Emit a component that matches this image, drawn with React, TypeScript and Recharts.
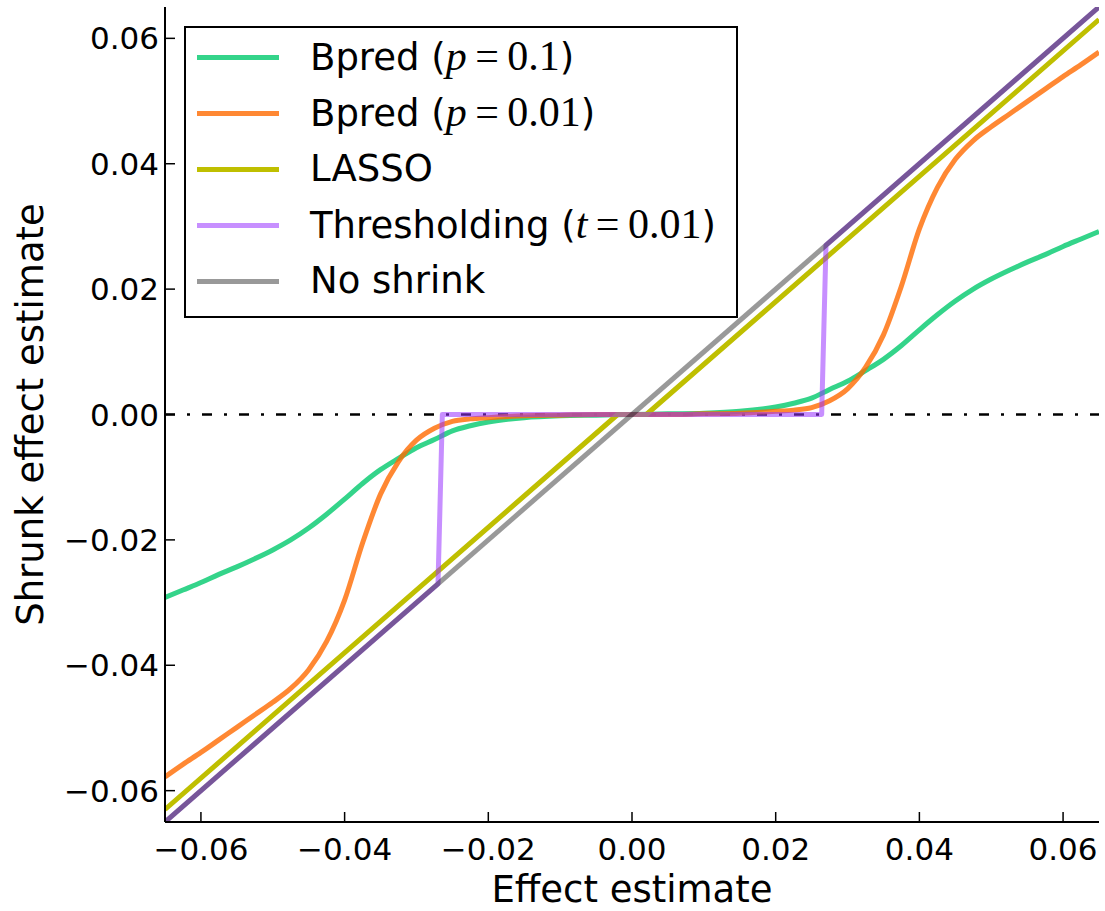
import React from "react";
import { LineChart, Line, XAxis, YAxis, Legend } from "recharts";

// effect estimates at which the Bpred curves are evaluated
const effectX = [
  -0.065, -0.0625, -0.06, -0.0575, -0.055, -0.0525, -0.05, -0.0475, -0.045, -0.0425, -0.04,
  -0.0375, -0.035, -0.0325, -0.03, -0.0275, -0.025, -0.0225, -0.02, -0.015, -0.01, -0.005, 0,
  0.005, 0.01, 0.015, 0.02, 0.0225, 0.025, 0.0275, 0.03, 0.0325, 0.035, 0.0375, 0.04, 0.0425,
  0.045, 0.0475, 0.05, 0.0525, 0.055, 0.0575, 0.06, 0.0625, 0.065,
];

const bpredP01 = [
  -0.0292, -0.028, -0.0268, -0.0255, -0.0243, -0.023, -0.0216, -0.02, -0.0181, -0.0159, -0.0135,
  -0.011, -0.0088, -0.007, -0.0053, -0.004, -0.0026, -0.0018, -0.0012, -0.0005, -0.0002, -0.0001, 0,
  0.0001, 0.0002, 0.0005, 0.0012, 0.0018, 0.0026, 0.004, 0.0053, 0.007, 0.0088, 0.011, 0.0135, 0.0159,
  0.0181, 0.02, 0.0216, 0.023, 0.0243, 0.0255, 0.0268, 0.028, 0.0292,
];

const bpredP001 = [
  -0.0578, -0.0558, -0.0539, -0.0519, -0.0499, -0.0479, -0.0459, -0.0437, -0.0407, -0.0362, -0.0296,
  -0.0205, -0.0127, -0.0075, -0.0041, -0.0022, -0.0011, -0.0007, -0.0005, -0.0002, -0.0001, 0, 0,
  0, 0.0001, 0.0002, 0.0005, 0.0007, 0.0011, 0.0022, 0.0041, 0.0075, 0.0127, 0.0205, 0.0296, 0.0362,
  0.0407, 0.0437, 0.0459, 0.0479, 0.0499, 0.0519, 0.0539, 0.0558, 0.0578,
];

const lassoX = [-0.065, -0.002, 0.002, 0.065];
const lassoY = [-0.063, 0, 0, 0.063];

const threshX = [-0.065, -0.027, -0.0264, 0.0264, 0.027, 0.065];
const threshY = [-0.065, -0.027, 0, 0, 0.027, 0.065];

const noShrinkX = [-0.065, 0.065];
const noShrinkY = [-0.065, 0.065];

const zeroX = [-0.065, 0.065];
const zeroY = [0, 0];

const axisDomain: [number, number] = [-0.065, 0.065];
const xTicks = [-0.06, -0.04, -0.02, 0, 0.02, 0.04, 0.06];
const yTicks = [-0.06, -0.04, -0.02, 0, 0.02, 0.04, 0.06];

const xTitle = "Effect estimate";
const yTitle = "Shrunk effect estimate";

const toPoints = (xs: number[], ys: number[]) => xs.map((x, i) => ({ x, y: ys[i] }));

const fmt = (v: number) => {
  const s = Math.abs(v).toFixed(2);
  return v < -1e-9 ? "\u2212" + s : s;
};

type Series = {
  key: string;
  name: string;
  math?: [string, string];
  color: string;
  opacity: number;
  curve: "monotone" | "linear";
  data: { x: number; y: number }[];
};

const series: Series[] = [
  { key: "p01", name: "Bpred", math: ["p", "0.1"], color: "#01c96d", opacity: 0.8, curve: "monotone", data: toPoints(effectX, bpredP01) },
  { key: "p001", name: "Bpred", math: ["p", "0.01"], color: "#ff6a00", opacity: 0.8, curve: "monotone", data: toPoints(effectX, bpredP001) },
  { key: "lasso", name: "LASSO", color: "#bfbf00", opacity: 1, curve: "linear", data: toPoints(lassoX, lassoY) },
  { key: "thresh", name: "Thresholding", math: ["t", "0.01"], color: "#9933ff", opacity: 0.55, curve: "linear", data: toPoints(threshX, threshY) },
  { key: "none", name: "No shrink", color: "#000000", opacity: 0.4, curve: "linear", data: toPoints(noShrinkX, noShrinkY) },
];

const SANS = "DejaVu Sans";
const MATH = "Liberation Serif";
const TICK_FONT = 31;

const BottomTick = (p: any) => (
  <g>
    <line x1={p.x} x2={p.x} y1={p.y} y2={p.y - 10} stroke="#000" strokeWidth={1.5} />
    <text x={p.x} y={p.y + 38} textAnchor="middle" fontFamily={SANS} fontSize={TICK_FONT} fill="#000">
      {fmt(p.payload.value)}
    </text>
  </g>
);

const LeftTick = (p: any) => (
  <g>
    <line x1={p.x} x2={p.x + 10} y1={p.y} y2={p.y} stroke="#000" strokeWidth={1.5} />
    <text x={p.x - 6} y={p.y + 11} textAnchor="end" fontFamily={SANS} fontSize={TICK_FONT} fill="#000">
      {fmt(p.payload.value)}
    </text>
  </g>
);

const TopTick = (p: any) => (
  <line x1={p.x} x2={p.x} y1={p.y} y2={p.y + 10} stroke="#000" strokeWidth={1.5} />
);

const RightTick = (p: any) => (
  <line x1={p.x} x2={p.x - 10} y1={p.y} y2={p.y} stroke="#000" strokeWidth={1.5} />
);

const XTitle = (p: any) => {
  const vb = p.viewBox || { x: 165, y: 822, width: 934, height: 89 };
  return (
    <text x={vb.x + vb.width / 2} y={vb.y + 80} textAnchor="middle" fontFamily={SANS} fontSize={37} fill="#000">
      {xTitle}
    </text>
  );
};

const YTitle = (p: any) => {
  const vb = p.viewBox || { x: 0, y: 7, width: 165, height: 815 };
  const cx = vb.x + 43;
  const cy = vb.y + vb.height / 2;
  return (
    <text x={cx} y={cy} transform={`rotate(-90, ${cx}, ${cy})`} textAnchor="middle" fontFamily={SANS} fontSize={37} fill="#000">
      {yTitle}
    </text>
  );
};

const LegendBox = () => (
  <div
    style={{
      width: 554,
      height: 292,
      boxSizing: "border-box",
      border: "2px solid #000",
      background: "#fff",
      position: "relative",
      fontFamily: SANS,
      fontSize: 37,
      color: "#000",
    }}
  >
    {series.map((s, i) => (
      <div
        key={s.key}
        style={{ position: "absolute", left: 0, top: 29 + i * 56.1 - 22, height: 44, display: "flex", alignItems: "center" }}
      >
        <div style={{ marginLeft: 11, width: 82, height: 5, background: s.color, opacity: s.opacity }} />
        <span style={{ marginLeft: 31, lineHeight: "44px", whiteSpace: "nowrap" }}>
          {s.name}
          {s.math ? (
            <>
              {" ("}
              <span style={{ fontFamily: MATH, fontSize: 42 }}>
                <i>{s.math[0]}</i>
                {"\u2009=\u2009"}
                {s.math[1]}
              </span>
              {")"}
            </>
          ) : null}
        </span>
      </div>
    ))}
  </div>
);

export default function App() {
  return (
    <div style={{ position: "absolute", left: 0, top: 0 }}>
      <LineChart width={1105} height={911} margin={{ top: 7, right: 6, bottom: 0, left: 0 }}>
        <XAxis
          dataKey="x"
          type="number"
          domain={axisDomain}
          ticks={xTicks}
          interval={0}
          allowDataOverflow
          height={89}
          tickSize={0}
          tickMargin={0}
          tickLine={false}
          tick={BottomTick}
          axisLine={{ stroke: "#000", strokeWidth: 2 }}
          label={XTitle}
        />
        <XAxis
          xAxisId="top"
          orientation="top"
          dataKey="x"
          type="number"
          domain={axisDomain}
          ticks={xTicks}
          interval={0}
          allowDataOverflow
          height={0}
          tickSize={0}
          tickMargin={0}
          tickLine={false}
          tick={TopTick}
          axisLine={{ stroke: "#000", strokeWidth: 2 }}
        />
        <YAxis
          dataKey="y"
          type="number"
          domain={axisDomain}
          ticks={yTicks}
          interval={0}
          allowDataOverflow
          width={165}
          tickSize={0}
          tickMargin={0}
          tickLine={false}
          tick={LeftTick}
          axisLine={{ stroke: "#000", strokeWidth: 2 }}
          label={YTitle}
        />
        <YAxis
          yAxisId="right"
          orientation="right"
          dataKey="y"
          type="number"
          domain={axisDomain}
          ticks={yTicks}
          interval={0}
          allowDataOverflow
          width={0}
          tickSize={0}
          tickMargin={0}
          tickLine={false}
          tick={RightTick}
          axisLine={{ stroke: "#000", strokeWidth: 2 }}
        />
        <Line
          data={toPoints(zeroX, zeroY)}
          dataKey="y"
          type="linear"
          stroke="#000"
          strokeWidth={2.5}
          strokeDasharray="10 12 3 12"
          dot={false}
          activeDot={false}
          legendType="none"
          isAnimationActive={false}
        />
        {series.map((s) => (
          <Line
            key={s.key}
            data={s.data}
            dataKey="y"
            name={s.name}
            type={s.curve}
            stroke={s.color}
            strokeOpacity={s.opacity}
            strokeWidth={5}
            strokeLinejoin="round"
            dot={false}
            activeDot={false}
            isAnimationActive={false}
          />
        ))}
        <Legend
          layout="vertical"
          align="center"
          verticalAlign="middle"
          wrapperStyle={{ left: 184, top: 26, width: 554, height: 292 }}
          content={LegendBox}
        />
      </LineChart>
    </div>
  );
}
